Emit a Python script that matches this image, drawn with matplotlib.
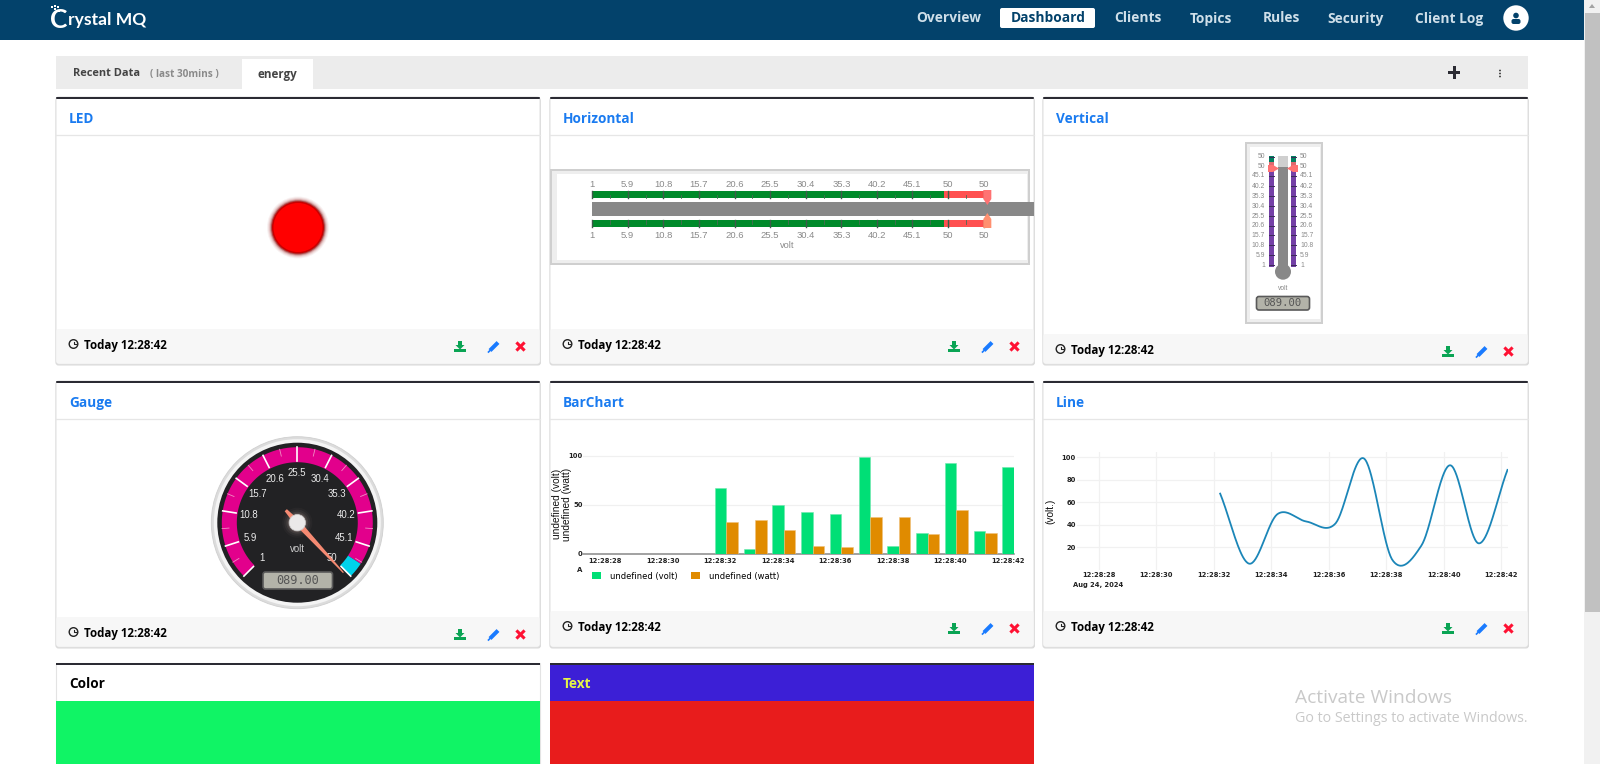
import numpy as np
import matplotlib
matplotlib.use("Agg")
import matplotlib.pyplot as plt
from matplotlib.patches import FancyBboxPatch, Rectangle, Circle, Polygon

# ---------- data ----------
times = [32.22, 33.22, 34.22, 35.22, 36.22, 37.22, 38.22, 39.22, 40.22, 41.22, 42.22]
volt = [67.7, 5.5, 49.6, 42.9, 40.8, 99, 8.5, 21.4, 92.9, 23.5, 88.8]
watt = [32.7, 34.7, 24.5, 8.5, 7.5, 37.8, 37.8, 20.4, 44.9, 21.4, np.nan]
x_ticks = [28, 30, 32, 34, 36, 38, 40, 42]
x_tick_labels = ["12:28:28", "12:28:30", "12:28:32", "12:28:34", "12:28:36", "12:28:38", "12:28:40", "12:28:42"]
bar_y_ticks = [0, 50, 100]
bar_y_labels = ["0", "50", "100"]
line_y_ticks = [20, 40, 60, 80, 100]
scale_labels = ["1", "5.9", "10.8", "15.7", "20.6", "25.5", "30.4", "35.3", "40.2", "45.1", "50"]
nav_items = ["Overview", "Dashboard", "Clients", "Topics", "Rules", "Security", "Client Log"]
reading = "089.00"
timestamp = "Today 12:28:42"

W, H = 1600, 764
FONT = "Open Sans"
plt.rcParams["font.family"] = [FONT, "DejaVu Sans"]
fig = plt.figure(figsize=(W / 100, H / 100), dpi=100, facecolor="white")
ov = fig.add_axes([0, 0, 1, 1], zorder=1)
ov.set_xlim(0, W); ov.set_ylim(H, 0); ov.axis("off")


def rect(x0, y0, x1, y1, fc, ec="none", lw=0, z=2, round_=0, alpha=None):
    if round_:
        p = FancyBboxPatch((x0, y0), x1 - x0, y1 - y0, boxstyle=f"round,pad=0,rounding_size={round_}",
                           fc=fc, ec=ec, lw=lw, zorder=z, alpha=alpha)
    else:
        p = Rectangle((x0, y0), x1 - x0, y1 - y0, fc=fc, ec=ec, lw=lw, zorder=z, alpha=alpha)
    ov.add_patch(p)
    return p


def txt(x, y, s, size=8, color="black", weight="normal", ha="left", va="center", z=6, family=None, rot=0):
    dy = 0 if family else 1.5
    return ov.text(x, y + dy, s, fontsize=size, color=color, fontweight=weight, ha=ha, va=va, zorder=z,
                   family=family if family else [FONT, "DejaVu Sans"], rotation=rot)


# ---------- header ----------
rect(0, 0, 1584, 40, "#03426b")
txt(50, 20, "C", 19, "white", "bold", family="Lato")
txt(68, 20.5, "rystal MQ", 12.6, "white", "bold", family="Lato")
for sx, sy in [(51, 6), (54, 8), (57, 6), (54, 5), (58, 10)]:
    rect(sx, sy, sx + 2, sy + 2, "white", z=5)
nav_x = [949, 1048, 1138, 1211, 1281, 1356, 1449]
rect(1000, 8, 1095, 28, "white", round_=2, z=3)
for name, x in zip(nav_items, nav_x):
    c = "#03426b" if name == "Dashboard" else "#cfdfe9"
    txt(x, 21, name, 9.9, c, "bold", ha="center", va="baseline")
ov.add_patch(Circle((1516, 18), 12.7, fc="white", zorder=3))
ov.add_patch(Circle((1516, 15.5), 2.8, fc="#03426b", zorder=4))
rect(1511.5, 19, 1520.5, 24, "#03426b", round_=2, z=4)

# scrollbar
rect(1584, 0, 1600, H, "#f1f1f1")
rect(1585, 13, 1600, 612, "#c1c1c1", z=3)
ov.add_patch(Polygon([[1589, 8], [1595, 8], [1592, 4]], fc="#a3a3a3", zorder=3))

# ---------- tab bar ----------
rect(56, 56, 1528, 89, "#ececec")
rect(242, 59, 313, 89, "white", z=3)
txt(73, 72.5, "Recent Data", 7.9, "#444444", "bold")
txt(150, 72.5, "( last 30mins )", 7.2, "#8a8a8a", "bold")
txt(277.5, 73, "energy", 8.4, "#444444", "bold", ha="center")
rect(1448, 71, 1460, 74, "#2b2b33", z=4)
rect(1452.5, 66, 1455.5, 79, "#2b2b33", z=4)
for dy in (-3, 0, 3):
    ov.add_patch(Circle((1500, 73.5 + dy), 0.9, fc="#333333", zorder=4))


# ---------- cards ----------
def clock(x, y):
    ov.add_patch(Circle((x, y), 4.3, fc="none", ec="#222222", lw=1, zorder=6))
    ov.plot([x, x, x + 2.2], [y - 2.5, y, y], color="#222222", lw=0.8, zorder=6)


def icons(left, y):
    cx = left + 404
    ov.add_patch(Polygon([[cx - 2, y - 6], [cx + 2, y - 6], [cx + 2, y - 2], [cx + 4.5, y - 2], [cx, y + 2.5],
                          [cx - 4.5, y - 2], [cx - 2, y - 2]], fc="#0aa454", zorder=6))
    rect(cx - 6, y + 1.8, cx + 6, y + 5, "#0aa454", z=6)
    cx = left + 438
    ov.plot([cx - 4, cx + 4], [y + 3.5, y - 4.5], color="#1a7bff", lw=2.9, zorder=6, solid_capstyle="butt")
    ov.plot([cx - 5.5, cx - 4], [y + 5, y + 3.5], color="#1a7bff", lw=1.2, zorder=6)
    cx = left + 464.5
    ov.plot([cx - 3, cx + 3], [y - 3.5, y + 2.5], color="#ff1133", lw=2.2, zorder=6)
    ov.plot([cx - 3, cx + 3], [y + 2.5, y - 3.5], color="#ff1133", lw=2.2, zorder=6)


def card(x0, x1, y0, y1, title, head_h=38, foot_y=None, title_color="#1a7bf0", icon_dx=0):
    rect(x0 - 0.5, y0 + 1, x1 + 1, y1 + 1.5, "#d8d8d8", round_=3, z=1.2)
    rect(x0, y0, x1, y1, "white", ec="#e3e3e3", lw=0.8, round_=3, z=1.5)
    rect(x0, y0, x1, y0 + 2, "#2b2b33", z=3, round_=1)
    ov.plot([x0, x1], [y0 + head_h] * 2, color="#e6e6e6", lw=0.9, zorder=3)
    txt(x0 + 13, y0 + 20.5, title, 9.8, title_color, "bold")
    if foot_y is not None:
        rect(x0 + 0.5, foot_y, x1 - 0.5, y1 - 0.5, "#f7f7f7", z=2, round_=2)
        clock(x0 + 17.5, foot_y + 15)
        txt(x0 + 28, foot_y + 15, timestamp, 8.3, "black", "bold")
        icons(x0 + icon_dx, foot_y + 18)


C1, C2, C3 = (56, 540), (550, 1034), (1043, 1528)
card(*C1, 97, 364, "LED", foot_y=329)
card(*C2, 97, 364, "Horizontal", foot_y=329)
card(*C3, 97, 364, "Vertical", foot_y=334, icon_dx=1)
card(*C1, 381, 647, "Gauge", foot_y=617)
card(*C2, 381, 647, "BarChart", foot_y=611)
card(*C3, 381, 647, "Line", foot_y=611, icon_dx=1)

# row 3
rect(C1[0], 663, C1[1], 764, "white", ec="#e3e3e3", lw=0.8, z=1.5)
rect(C1[0], 663, C1[1], 665, "#2b2b33", z=3)
txt(C1[0] + 13, 682.5, "Color", 9.8, "black", "bold")
rect(C1[0], 701, C1[1], 764, "#10f465", z=3)
rect(C2[0], 663, C2[1], 701, "#3c1fd6", z=3)
rect(C2[0], 663, C2[1], 665, "#2b2b33", z=3)
txt(C2[0] + 13, 682.5, "Text", 9.8, "#e6f545", "bold")
rect(C2[0], 701, C2[1], 764, "#e81c1c", z=3)

# ---------- LED ----------
for r, a in [(31, .05), (30, .08), (29, .12), (28, .25), (27, .5)]:
    ov.add_patch(Circle((298, 227.5), r, fc="#8a0000", alpha=a, zorder=3))
ov.add_patch(Circle((298, 227.5), 26, fc="#c80000", zorder=3))
ov.add_patch(Circle((298, 227.5), 24.5, fc="#ff0000", zorder=3))

# ---------- horizontal linear gauge ----------
hx0, hx1 = 550, 1030
rect(hx0, 169, hx1, 265, "#cfcfcf", z=3)
rect(hx0 + 2, 171, hx1 - 2, 263, "#eeeeee", z=3)
rect(hx0 + 7, 174, hx1 - 3, 260, "white", z=3)
hpos = [539 + z / 3 for z in (160, 266, 373, 480, 587, 693, 800, 907, 1013, 1120, 1228)]
hlast = 539 + 1334 / 3
for yb0, yb1, yl, ymi in [(191, 198.3, 184.3, (194.5, 198.3)), (220, 227.3, 235.3, (220, 224))]:
    rect(hpos[0], yb0, hpos[-1] - 3, yb1, "#008a2a", z=4)
    rect(hpos[-1] - 4, yb0, hlast + 3, yb1, "#ff5050", z=4)
    for i, (p, lab) in enumerate(zip(hpos + [hlast], scale_labels + ["50"])):
        ov.plot([p, p], [yb0, yb1], color="#3f5a4a", lw=1, zorder=5)
        txt(p, yl, lab, 6.8, "#8a8a8a", ha="center", family="Liberation Sans")
        if i < 11:
            nxt = (hpos + [hlast, hlast])[i + 1]
            ov.plot([(p + nxt) / 2] * 2, ymi, color="#4b6a55", lw=.6, zorder=5)
rect(592.3, 201.7, 1034, 216, "#888888", z=5)
txt(787, 245.5, "volt", 6.6, "#8a8a8a", ha="center", family="Liberation Sans")
px = 539 + 1345 / 3
ov.add_patch(Polygon([[px - 4, 190], [px + 4, 190], [px + 4, 199], [px, 205], [px - 4, 199]], fc="#ff7272", zorder=6))
ov.add_patch(Polygon([[px - 4, 228], [px + 4, 228], [px + 4, 219], [px, 213], [px - 4, 219]], fc="#ff9070", zorder=6))

# ---------- vertical linear gauge ----------
vx0, vx1 = 1245, 1323
rect(vx0, 142, vx1, 324, "#cfcfcf", z=3)
rect(vx0 + 2, 144, vx1 - 2, 322, "#eeeeee", z=3)
rect(vx0 + 5, 147, vx1 - 3, 319, "white", z=3)
vz = [391, 361, 331, 301, 272, 243, 213, 183, 153, 122, 96, 66]
vpos = [135 + z / 3 for z in vz]
for bx0, bx1, lx, ha in [(1269, 1274, 1265, "right"), (1291, 1296.3, 1300, "left")]:
    rect(bx0, vpos[-1] - 1, bx1, vpos[0] + 1.3, "#7440a6", z=4)
    rect(bx0, vpos[-1] - 1, bx1, vpos[-1] + 4.5, "#008060", z=4)
    rect(bx0, vpos[-1] + 4.5, bx1, vpos[-2], "#e06a70", z=4)
    for i, (p, lab) in enumerate(zip(vpos, scale_labels + ["50"])):
        ov.plot([bx0, bx1], [p, p], color="#3c2c58", lw=.7, zorder=5)
        txt(lx, p, lab, 4.9, "#8a8a8a", ha=ha, family="Liberation Sans")
rect(1278.3, vpos[-1] - 1, 1288.3, vpos[-2], "#cfcfcf", z=5)
rect(1278.3, vpos[-2], 1288.3, 270, "#888888", z=5)
ov.add_patch(Circle((1283, 271.7), 8, fc="#888888", zorder=5))
ov.add_patch(Polygon([[1268, 165], [1273, 165], [1279, 168.5], [1273, 172], [1268, 172]], fc="#ff7272", zorder=6))
ov.add_patch(Polygon([[1298, 165], [1293, 165], [1287, 168.5], [1293, 172], [1298, 172]], fc="#ff7272", zorder=6))
txt(1283, 288.7, "volt", 4.8, "#888888", ha="center", family="Liberation Sans")
rect(1256.5, 296.5, 1309.5, 310, "#b3b3a9", ec="#5a5a5a", lw=1.2, round_=2.5, z=5)
txt(1283, 303.5, reading, 7.6, "#555555", ha="center", family="DejaVu Sans Mono")

# ---------- round gauge ----------
cx, cy = 297.3, 522.7
start, sweep = -135, 270


def pol(a, r):
    t = np.radians(a)
    return cx + r * np.sin(t), cy - r * np.cos(t)


def ring(a0, a1, r0, r1, color, z=4):
    aa = np.linspace(a0, a1, 90)
    xo, yo = pol(aa, r1)
    xi, yi = pol(aa[::-1], r0)
    ov.add_patch(Polygon(np.c_[np.r_[xo, xi], np.r_[yo, yi]], fc=color, ec="none", zorder=z))


ov.add_patch(Circle((cx, cy), 86, fc="#dcdcdc", ec="#cfcfcf", lw=.6, zorder=3))
ov.add_patch(Circle((cx, cy), 83.5, fc="#f4f4f4", zorder=3))
ov.add_patch(Circle((cx, cy), 80, fc="#222224", zorder=3))
ring(start, 123, 60.5, 75.5, "#e2008c")
ring(123, 135, 60.5, 75.5, "#00d2ea")
n = len(scale_labels)
for i, lab in enumerate(scale_labels):
    a = start + sweep * i / (n - 1)
    xs, ys = pol(np.array([a, a]), np.array([62, 75.5]))
    ov.plot(xs, ys, color="white", lw=1.2, zorder=5)
    lx, ly = pol(a, 49.5)
    txt(lx, ly, lab, 6.9, "#ececec", ha="center", family="Liberation Sans", z=5)
    if i < n - 1:
        am = a + sweep / (n - 1) / 2
        xs, ys = pol(np.array([am, am]), np.array([68.5, 75.5]))
        ov.plot(xs, ys, color="#f090c4", lw=.6, zorder=5)
txt(cx, 548.7, "volt", 6.9, "#d0d0d0", ha="center", family="Liberation Sans", z=5)
for r, a in [(15, .03), (13, .05), (11, .08), (9.5, .12)]:
    ov.add_patch(Circle((cx, cy), r, fc="#ffd8cc", alpha=a, zorder=5))
na = 137.3
tip = pol(na, 68)
tail = pol(na, -17)
nrm = np.array([np.cos(np.radians(na)), np.sin(np.radians(na))])
ov.add_patch(Polygon([np.array(tip) + nrm * .6, np.array(pol(na, 0)) + nrm * 3, np.array(tail) + nrm * 1.5,
                      np.array(tail) - nrm * 1.5, np.array(pol(na, 0)) - nrm * 3, np.array(tip) - nrm * .6],
                     fc="#f58a72", zorder=6))
ov.add_patch(Circle((cx, cy), 8.2, fc="#ebe9e9", ec="#cfcfcf", lw=.5, zorder=7))
rect(263, 572, 332.5, 589, "#b3b3a9", ec="#5a5a5a", lw=1.2, round_=2.5, z=5)
txt(cx, 581, reading, 8.6, "#555555", ha="center", family="DejaVu Sans Mono")


# ---------- time-axis helpers ----------
def px_axes(x0, x1, y0, y1):
    return fig.add_axes([x0 / W, 1 - y1 / H, (x1 - x0) / W, (y1 - y0) / H], zorder=3, facecolor="none")


def tick_style(ax):
    ax.tick_params(length=0, labelsize=4.9, pad=3)
    for lab in ax.get_xticklabels() + ax.get_yticklabels():
        lab.set_family("DejaVu Sans")
        lab.set_fontweight("bold")
        lab.set_color("#222222")


xlim = (27.22, 42.22)
# ---------- bar chart ----------
y_top = 452
ax = px_axes(582.6, 1013.9, y_top, 554)
ax.set_xlim(*xlim)
ax.set_ylim(0, (554 - y_top) / 0.98)
t = np.array(times)
bw = 0.4
b1 = ax.bar(t - bw / 2, volt, bw, color="#00df76", edgecolor="#6ee8ae", linewidth=.4, label="undefined (volt)", zorder=3)
b2 = ax.bar(t + bw / 2, watt, bw, color="#e08b00", edgecolor="#efc27c", linewidth=.4, label="undefined (watt)", zorder=3)
ax.set_xticks(x_ticks, x_tick_labels)
ax.set_yticks(bar_y_ticks, bar_y_labels)
ax.grid(axis="y", color="#f0f0f0", lw=.9, zorder=0)
for s in ("top", "right", "left"):
    ax.spines[s].set_visible(False)
ax.spines["bottom"].set_color("#888888")
ax.spines["bottom"].set_linewidth(1.1)
tick_style(ax)
ax.tick_params(axis="x", pad=2.8)
ax.tick_params(axis="y", pad=0)
txt(556.5, 504, "undefined (volt)", 7.3, "#111111", ha="center", rot=90, family="Liberation Sans", z=7)
txt(567.5, 504, "undefined (watt)", 7.3, "#111111", ha="center", rot=90, family="Liberation Sans", z=7)
txt(580, 570.5, "A", 5, "#222222", "bold", ha="center", family="DejaVu Sans", z=7)
leg = ax.legend(handles=[b1, b2], loc="upper left", bbox_to_anchor=(592 / W, 1 - 571.5 / H),
                bbox_transform=fig.transFigure, ncol=2, frameon=False, handlelength=1.08,
                handleheight=.96, handletextpad=1.1, columnspacing=1.6, borderpad=0, borderaxespad=0,
                prop={"family": "DejaVu Sans", "size": 6})
for h in leg.legend_handles:
    h.set_edgecolor("none")

# ---------- line chart ----------
ax2 = px_axes(1076.5, 1507.5, 452, 570)
ax2.set_xlim(*xlim)
ax2.set_ylim(-0.2, 104.7)


def cardinal(tv, yv, per=40, k=0.92):
    tv, yv = np.asarray(tv), np.asarray(yv, float)
    m = np.gradient(yv, tv, edge_order=1)
    m[1:-1] = k * (yv[2:] - yv[:-2]) / (tv[2:] - tv[:-2])
    out_t, out_y = [], []
    for i in range(len(tv) - 1):
        h = tv[i + 1] - tv[i]
        s = np.linspace(0, 1, per)
        h00, h10, h01, h11 = 2*s**3 - 3*s**2 + 1, s**3 - 2*s**2 + s, -2*s**3 + 3*s**2, s**3 - s**2
        out_t.append(tv[i] + s * h)
        out_y.append(h00 * yv[i] + h10 * h * m[i] + h01 * yv[i + 1] + h11 * h * m[i + 1])
    return np.concatenate(out_t), np.concatenate(out_y)


lx_, ly_ = cardinal(times, volt)
ax2.plot(lx_, ly_, color="#1b86b8", lw=1.3, zorder=3)
ax2.set_xticks(x_ticks, x_tick_labels)
ax2.set_yticks(line_y_ticks)
ax2.grid(True, color="#f1f1f1", lw=.9, zorder=0)
for s in ax2.spines.values():
    s.set_visible(False)
tick_style(ax2)
ax2.tick_params(axis="x", pad=1.5)
ax2.tick_params(axis="y", pad=0.5)
txt(1050, 511, "(volt.)", 7.3, "#111111", ha="center", rot=90, family="Liberation Sans", z=7)
txt(1098, 585, "Aug 24, 2024", 4.9, "#222222", "bold", ha="center", family="DejaVu Sans", z=7)

# ---------- watermark ----------
txt(1295, 696.5, "Activate Windows", 13.8, "#c9c9c9", z=8)
txt(1295, 717.5, "Go to Settings to activate Windows.", 10.3, "#c9c9c9", z=8)

fig.savefig("out.png", dpi=100, facecolor="white")
